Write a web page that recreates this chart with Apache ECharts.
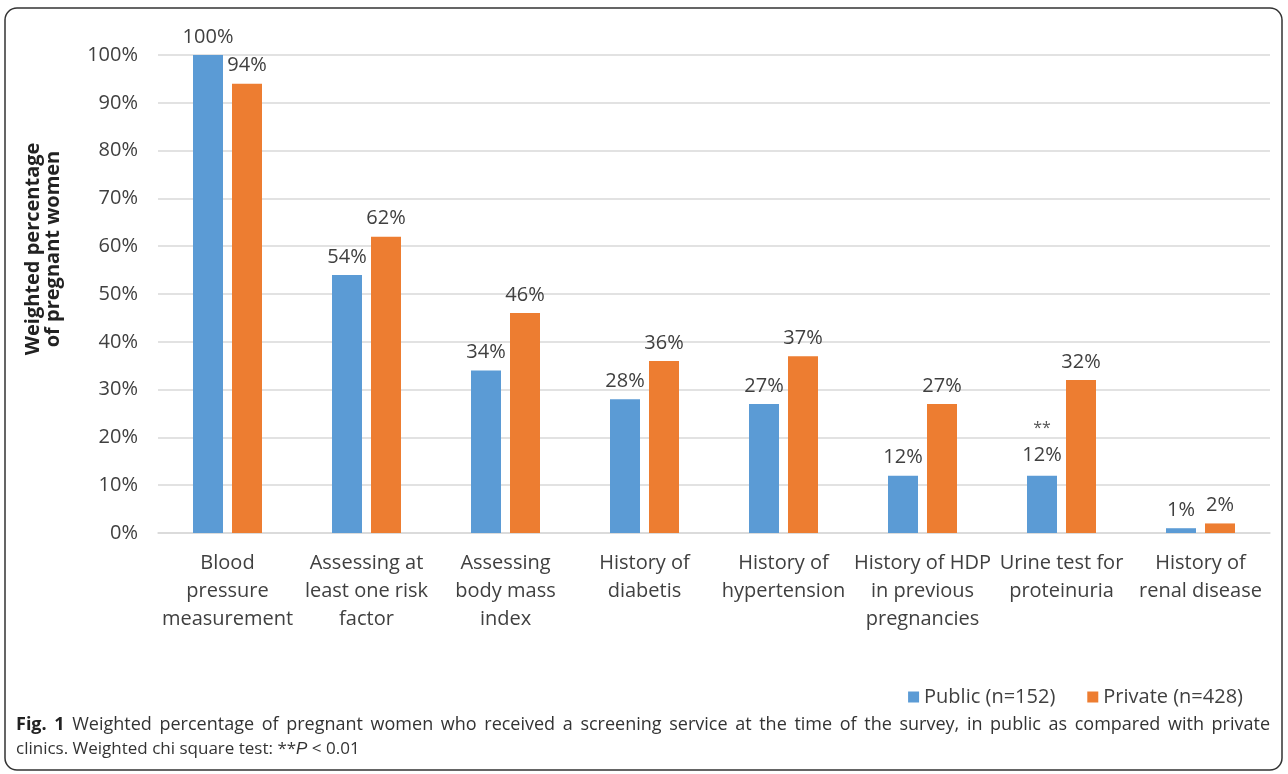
<!DOCTYPE html>
<html>
<head>
<meta charset="utf-8">
<script src="https://cdn.jsdelivr.net/npm/echarts@6/dist/echarts.min.js"></script>
<style>
  html, body { margin: 0; padding: 0; background: #fff; }
  #chart { width: 1288px; height: 774px; }
</style>
</head>
<body>
<div id="chart"></div>
<script>
const categories = [
  'Blood\npressure\nmeasurement',
  'Assessing at\nleast one risk\nfactor',
  'Assessing\nbody mass\nindex',
  'History of\ndiabetis',
  'History of\nhypertension',
  'History of HDP\nin previous\npregnancies',
  'Urine test for\nproteinuria',
  'History of\nrenal disease'
]
const publicValues = [100, 54, 34, 28, 27, 12, 12, 1]
const privateValues = [94, 62, 46, 36, 37, 27, 32, 2]
const significantIndex = 6
const yTicks = { min: 0, max: 100, interval: 10 }

const captionLine1 = 'Fig. 1 Weighted percentage of pregnant women who received a screening service at the time of the survey, in public as compared with private'
const captionBoldWords = 2

const font = 'Open Sans'
const textColor = '#404040'

const chart = echarts.init(document.getElementById('chart'))

const publicData = publicValues.map((v, i) => {
  if (i !== significantIndex) return v
  return {
    value: v,
    label: { formatter: '{s|**}\n{v|{c}%}' }
  }
})

// justify the first caption line the way the journal layout does
function justifiedLine(text, x0, x1, y, size) {
  const ctx = document.createElement('canvas').getContext('2d')
  const words = text.split(' ')
  const widths = words.map((w, i) => {
    ctx.font = (i < captionBoldWords ? 'bold ' : '') + size + 'px "' + font + '"'
    return ctx.measureText(w).width
  })
  const total = widths.reduce((a, b) => a + b, 0)
  const gap = (x1 - x0 - total) / (words.length - 1)
  let x = x0
  return words.map((w, i) => {
    const el = {
      type: 'text',
      x: x,
      y: y,
      style: {
        text: w,
        fontFamily: font,
        fontSize: size,
        fontWeight: i < captionBoldWords ? 'bold' : 'normal',
        fill: i < captionBoldWords ? '#222' : '#333',
        textVerticalAlign: 'middle'
      },
      silent: true
    }
    x += widths[i] + gap
    return el
  })
}

chart.setOption({
  animation: false,
  color: ['#5B9BD5', '#ED7D31'],
  textStyle: { fontFamily: font },
  grid: { left: 158, right: 18, top: 55, bottom: 241 },
  legend: {
    right: 40,
    top: 682,
    itemWidth: 11,
    itemHeight: 11,
    itemGap: 32,
    icon: 'rect',
    textStyle: { fontSize: 20, color: textColor, fontFamily: font }
  },
  xAxis: {
    type: 'category',
    data: categories,
    axisTick: { show: false },
    axisLine: { lineStyle: { color: '#d9d9d9', width: 1.5 } },
    axisLabel: {
      interval: 0,
      color: textColor,
      fontSize: 20,
      lineHeight: 28,
      margin: 16
    }
  },
  yAxis: {
    type: 'value',
    min: yTicks.min,
    max: yTicks.max,
    interval: yTicks.interval,
    axisLabel: { formatter: '{value}%', color: textColor, fontSize: 20, margin: 20 },
    splitLine: { lineStyle: { color: '#d9d9d9', width: 1.5 } }
  },
  series: [
    {
      name: 'Public (n=152)',
      type: 'bar',
      data: publicData,
      barWidth: 30,
      barGap: '30%',
      label: {
        show: true,
        position: 'top',
        distance: 8,
        formatter: '{c}%',
        fontSize: 20,
        color: textColor,
        rich: {
          s: { fontSize: 16, color: '#555', lineHeight: 30 },
          v: { fontSize: 20, color: textColor, lineHeight: 24 }
        }
      }
    },
    {
      name: 'Private (n=428)',
      type: 'bar',
      data: privateValues,
      barWidth: 30,
      label: {
        show: true,
        position: 'top',
        distance: 8,
        formatter: '{c}%',
        fontSize: 20,
        color: textColor
      }
    }
  ],
  graphic: [
    {
      type: 'rect',
      shape: { x: 5, y: 8, width: 1277, height: 762, r: 12 },
      style: { fill: 'none', stroke: '#333', lineWidth: 1.5 },
      silent: true
    },
    {
      type: 'text',
      x: 43,
      y: 249,
      rotation: Math.PI / 2,
      style: {
        text: 'Weighted percentage\nof pregnant women',
        fontFamily: font,
        fontSize: 20,
        fontWeight: 'bold',
        lineHeight: 20,
        fill: '#222',
        align: 'center',
        verticalAlign: 'middle'
      },
      silent: true
    },
    ...justifiedLine(captionLine1, 16, 1270, 725, 18),
    {
      type: 'text',
      x: 16,
      y: 749,
      style: {
        text: 'clinics. Weighted chi square test: **{i|P} < 0.01',
        fontFamily: font,
        fontSize: 17,
        fill: '#333',
        textVerticalAlign: 'middle',
        rich: { i: { fontStyle: 'italic', fontSize: 17, fill: '#333' } }
      },
      silent: true
    }
  ]
})
</script>
</body>
</html>
